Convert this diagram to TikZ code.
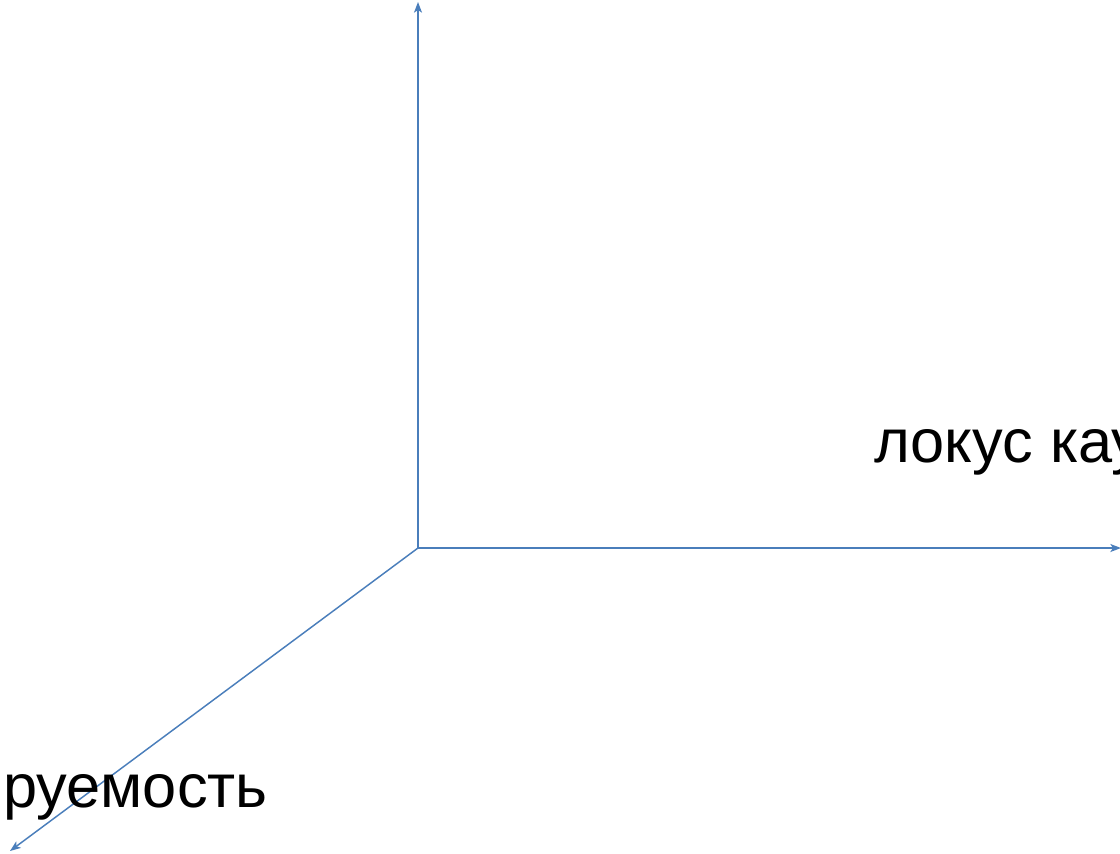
\documentclass[tikz,border=0pt]{standalone}
\usepackage{fontspec}
\setmainfont{Liberation Sans}
\usetikzlibrary{arrows.meta}
\definecolor{axisblue}{HTML}{4A7EBB}
\tikzset{
  axis/.style={draw=axisblue, line width=1.1pt, -{Stealth[length=8pt,width=6pt,inset=2pt]}},
  axislabel/.style={font=\fontsize{46}{50}\selectfont, text=black, inner sep=0pt}
}
\begin{document}
\begin{tikzpicture}[x=0.75pt,y=-0.75pt]
  \useasboundingbox (0,0) rectangle (1120,853);
  \clip (0,0) rectangle (1120,853);
  \coordinate (O) at (418,548);
  \coordinate (top) at (418,2);
  \coordinate (right) at (1121,548);
  \coordinate (front) at (10,851);
  \draw[axis] (O) -- (top);
  \draw[axis] (O) -- (right);
  \draw[axis] (O) -- (front);
  \node[axislabel, anchor=base west] (locus) at (874,462) {локус каузальности};
  \node[axislabel, anchor=base east] (control) at (268,807) {контролируемость};
\end{tikzpicture}
\end{document}
